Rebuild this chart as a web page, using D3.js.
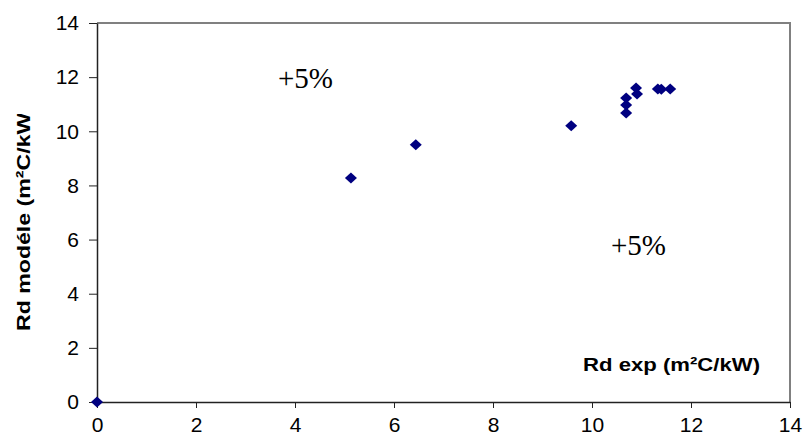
<!DOCTYPE html>
<html>
<head>
<meta charset="utf-8">
<script src="https://cdn.jsdelivr.net/npm/d3@7"></script>
<style>
	body { margin: 0; background: #fff; }
	text { font-family: "Liberation Sans", Arial, sans-serif; }
</style>
</head>
<body>
<div class="chart"></div>
<script>
var rdExp = [0, 5.13, 6.44, 9.58, 10.69, 10.69, 10.69, 10.89, 10.91, 11.33, 11.4, 11.58];
var rdModele = [0, 8.27, 9.5, 10.2, 11.23, 10.97, 10.68, 11.6, 11.38, 11.56, 11.55, 11.56];
var xTicks = [0, 2, 4, 6, 8, 10, 12, 14];
var yTicks = [0, 2, 4, 6, 8, 10, 12, 14];

var width = 803;
var height = 441;
var margin = {top: 23, right: 13, bottom: 39, left: 97};

var svg = d3.select(".chart")
	.append("svg")
	.attr("width", width)
	.attr("height", height);

var x = d3.scaleLinear().domain([0, 14]).range([margin.left, width - margin.right]);
var y = d3.scaleLinear().domain([0, 14]).range([height - margin.bottom, margin.top]);

// frame top/right
svg.append("path")
	.attr("d", "M" + x(0) + "," + y(14) + "H" + x(14) + "V" + y(0))
	.attr("fill", "none")
	.attr("stroke", "#808080")
	.attr("stroke-width", 2);

var xAxis = svg.append("g")
	.attr("transform", "translate(0," + y(0) + ")")
	.call(d3.axisBottom(x).tickValues(xTicks).tickSize(6).tickSizeOuter(0).tickPadding(9));

var yAxis = svg.append("g")
	.attr("transform", "translate(" + x(0) + ",0)")
	.call(d3.axisLeft(y).tickValues(yTicks).tickSize(8).tickSizeOuter(0).tickPadding(10));

[xAxis, yAxis].forEach(function(g) {
	g.attr("font-size", null).attr("font-family", null);
	g.select(".domain").attr("stroke", "#222").attr("stroke-width", 1.5);
	g.selectAll(".tick line").attr("stroke", "#222");
	g.selectAll(".tick text")
		.attr("fill", "#000")
		.style("font-family", "'Liberation Sans', Arial, sans-serif")
		.style("font-size", "21px");
});

// points
var pts = rdExp.map(function(d, i) { return [d, rdModele[i]]; });
svg.append("g")
	.selectAll("path")
	.data(pts)
	.enter()
	.append("path")
	.attr("transform", function(d) { return "translate(" + x(d[0]) + "," + y(d[1]) + ")"; })
	.attr("d", "M0,-5.5L6,0L0,5.5L-6,0Z")
	.attr("fill", "#000080");

// y title (clipped at the top as in the source)
svg.append("clipPath")
	.attr("id", "ytclip")
	.append("rect")
	.attr("x", 0).attr("y", 114).attr("width", 60).attr("height", 300);

svg.append("g")
	.attr("clip-path", "url(#ytclip)")
	.append("text")
	.attr("transform", "translate(30,331) rotate(-90)")
	.attr("text-anchor", "start")
	.attr("textLength", 226)
	.attr("lengthAdjust", "spacingAndGlyphs")
	.style("font-size", "19px")
	.style("font-weight", "bold")
	.text("Rd modéle (m²C/kW)");

svg.append("text")
	.attr("x", 583)
	.attr("y", 371)
	.attr("textLength", 177)
	.attr("lengthAdjust", "spacingAndGlyphs")
	.style("font-size", "19px")
	.style("font-weight", "bold")
	.text("Rd exp (m²C/kW)");

svg.append("text")
	.attr("x", 278)
	.attr("y", 88)
	.style("font-family", "'Liberation Serif', 'Times New Roman', serif")
	.style("font-size", "29px")
	.text("+5%");

svg.append("text")
	.attr("x", 611)
	.attr("y", 255)
	.style("font-family", "'Liberation Serif', 'Times New Roman', serif")
	.style("font-size", "29px")
	.text("+5%");
</script>
</body>
</html>
